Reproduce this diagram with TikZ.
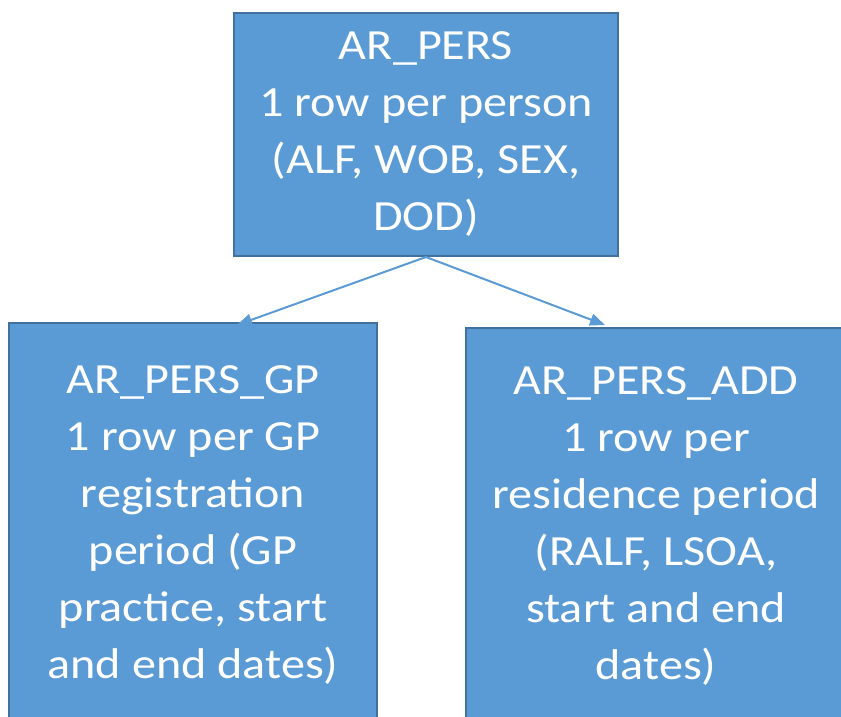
\documentclass[tikz,border=0pt]{standalone}
\usepackage{fontspec}
\setmainfont{Carlito}[FakeStretch=1.12]
\usetikzlibrary{arrows.meta,positioning}
\definecolor{boxfill}{HTML}{5B9BD5}
\definecolor{boxline}{HTML}{41719C}
\tikzset{
  tablebox/.style={draw=boxline,line width=2pt,fill=boxfill,text=white,align=center,
    inner sep=0pt,font=\fontsize{43}{57}\selectfont},
  linkarrow/.style={draw=boxfill,line width=2pt,-{Triangle[length=15pt,width=12pt]}}
}
\begin{document}
\begin{tikzpicture}[x=1pt,y=-1pt]
        \useasboundingbox (0,0) rectangle (841,716);
        \clip (0,0) rectangle (841,716);
        \node[tablebox,minimum width=384pt,minimum height=243pt](pers) at (426,134.5)
          {AR\_PERS\\1 row per person\\(ALF, WOB, SEX,\\DOD)};
        \node[tablebox,minimum width=368pt,minimum height=404pt](gp) at (193,525)
          {AR\_PERS\_GP\\1 row per GP\\registration\\period (GP\\practice, start\\and end dates)};
        \node[tablebox,minimum width=380pt,minimum height=396pt](add) at (656,526)
          {AR\_PERS\_ADD\\1 row per\\residence period\\(RALF, LSOA,\\start and end\\dates)};
        \coordinate(gpin) at (237,325);
        \coordinate(addin) at (605,325);
        \draw[linkarrow](pers.south)--(gpin);
        \draw[linkarrow](pers.south)--(addin);
    \end{tikzpicture}
\end{document}
